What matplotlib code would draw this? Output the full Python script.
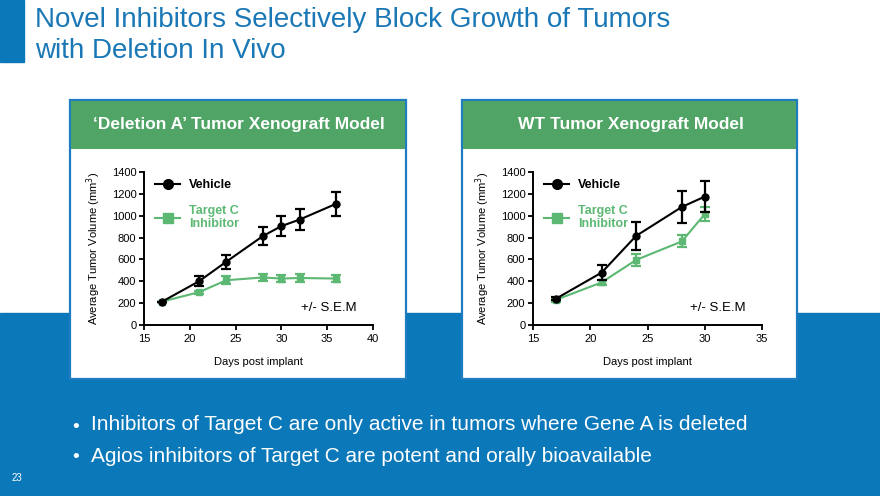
import numpy as np
import matplotlib
matplotlib.use("Agg")
import matplotlib.pyplot as plt
from matplotlib.patches import Rectangle
from matplotlib.lines import Line2D

plt.rcParams['font.family'] = ['Liberation Sans', 'DejaVu Sans']

# ---------------- data ----------------
title_lines = ["Novel Inhibitors Selectively Block Growth of Tumors", "with Deletion In Vivo"]
panel_titles = ["\u2018Deletion A\u2019 Tumor Xenograft Model", "WT Tumor Xenograft Model"]
series_names = ["Vehicle", "Target C\nInhibitor"]

del_days = [17, 21, 24, 28, 30, 32, 36]
del_vehicle = [215, 400, 580, 815, 905, 965, 1110]
del_vehicle_err = [0, 45, 65, 85, 95, 95, 110]
del_inhib = [215, 300, 410, 435, 425, 430, 425]
del_inhib_err = [0, 15, 35, 35, 35, 35, 35]

wt_days = [17, 21, 24, 28, 30]
wt_vehicle = [240, 480, 815, 1080, 1175]
wt_vehicle_err = [15, 70, 130, 145, 145]
wt_inhib = [230, 390, 595, 765, 1015]
wt_inhib_err = [15, 25, 55, 55, 65]

del_xticks = [15, 20, 25, 30, 35, 40]
wt_xticks = [15, 20, 25, 30, 35]
yticks = [0, 200, 400, 600, 800, 1000, 1200, 1400]

bullets = ["Inhibitors of Target C are only active in tumors where Gene A is deleted",
           "Agios inhibitors of Target C are potent and orally bioavailable"]
page_num = "23"

# ---------------- styling ----------------
W, H = 880, 496
BLUE = '#0a78b9'
TITLE_BLUE = '#1b78b6'
HEAD_GREEN = '#50a566'
LINE_GREEN = '#5cb873'
BORDER = '#1f7cc0'

fig = plt.figure(figsize=(W/100, H/100), dpi=100)
fig.patch.set_facecolor('white')

def fx(px): return px / W
def fy(py): return 1 - py / H

# blue band
fig.patches.append(Rectangle((0, 0), 1, fy(313), transform=fig.transFigure, color=BLUE, zorder=0))
# left title bar
fig.patches.append(Rectangle((0, fy(62)), fx(24), 62/H, transform=fig.transFigure, color=BLUE, zorder=0))

fig.text(fx(35), fy(20), title_lines[0], color=TITLE_BLUE, fontsize=20, va='center', ha='left')
fig.text(fx(35), fy(51), title_lines[1], color=TITLE_BLUE, fontsize=20, va='center', ha='left')

panels = [(70, 406), (462, 797)]
for (x0, x1), t in zip(panels, panel_titles):
    fig.patches.append(Rectangle((fx(x0), fy(379)), fx(x1 - x0), (379 - 100)/H,
                                 transform=fig.transFigure, facecolor='white',
                                 edgecolor=BORDER, linewidth=1.6, zorder=1))
    fig.patches.append(Rectangle((fx(x0) + 0.001, fy(149)), fx(x1 - x0) - 0.002, (149 - 101)/H,
                                 transform=fig.transFigure, facecolor=HEAD_GREEN,
                                 edgecolor='none', zorder=2))
    fig.text(fx((x0 + x1) / 2 + 1), fy(125), t, color='white',
             fontsize=12.5, fontweight='bold', ha='center', va='center', zorder=3)

def make_axes(left_px, right_px, days, veh, veh_err, inh, inh_err, xticks, xlim):
    ax = fig.add_axes([fx(left_px), fy(325), fx(right_px - left_px), (325 - 172)/H])
    ax.set_zorder(5)
    ax.patch.set_alpha(0)
    ax.errorbar(days, inh, yerr=inh_err, color=LINE_GREEN, marker='s', markersize=5,
                linewidth=1.5, capsize=3.3, capthick=1.6, elinewidth=1.6, zorder=3)
    ax.errorbar(days, veh, yerr=veh_err, color='black', marker='o', markersize=5,
                linewidth=1.5, capsize=3.3, capthick=1.6, elinewidth=1.6, zorder=4)
    ax.set_xlim(*xlim)
    ax.set_ylim(0, 1400)
    ax.set_xticks(xticks)
    ax.set_yticks(yticks)
    for s in ['top', 'right']:
        ax.spines[s].set_visible(False)
    for s in ['left', 'bottom']:
        ax.spines[s].set_linewidth(1.4)
    ax.tick_params(axis='both', labelsize=8, width=1.3, length=3.5, pad=2, colors='black')
    ax.tick_params(axis='x', pad=3)
    ax.set_xlabel("Days post implant", fontsize=8, labelpad=9)
    ax.set_ylabel("Average Tumor Volume (mm$^3$)", fontsize=8, labelpad=6)
    h1 = Line2D([], [], color='black', marker='o', markersize=7, linewidth=1.5)
    h2 = Line2D([], [], color=LINE_GREEN, marker='s', markersize=7, linewidth=1.5)
    leg = ax.legend([h1, h2], series_names, loc='upper left', bbox_to_anchor=(0.0, 1.025),
                    frameon=False, handlelength=2.0, handletextpad=0.7,
                    labelspacing=1.05, prop={'weight': 'bold', 'size': 9})
    leg.get_texts()[0].set_color('black')
    leg.get_texts()[1].set_color(LINE_GREEN)
    ax.text(0.685, 0.11, "+/- S.E.M", transform=ax.transAxes, fontsize=9.5, ha='left', va='center')
    return ax

make_axes(144, 373, del_days, del_vehicle, del_vehicle_err, del_inhib, del_inhib_err, del_xticks, (15, 40))
make_axes(533, 762, wt_days, wt_vehicle, wt_vehicle_err, wt_inhib, wt_inhib_err, wt_xticks, (15, 35))

for i, b in enumerate(bullets):
    y = 425 + 31 * i
    fig.text(fx(72), fy(y + 2), "\u2022", color='white', fontsize=14, ha='left', va='center')
    fig.text(fx(91), fy(y), b, color='white', fontsize=15, ha='left', va='center')

fig.text(fx(12), fy(478), page_num, color='white', fontsize=7, ha='left', va='center')

# logo (decorative waves)
lax = fig.add_axes([fx(812), fy(484), fx(56), 26/H])
lax.axis('off')
t = np.linspace(0, 1, 100)
lax.plot(t, 0.5 + 0.35 * np.sin(np.pi * (t * 1.6 - 0.3)) * (1 - t) + 0.1 * t, color='white', lw=1.5)
lax.plot(t, 0.5 - 0.35 * np.sin(np.pi * (t * 1.6 - 0.3)) * (1 - t) - 0.1 * t, color='#cde6f5', lw=1.2)
lax.set_xlim(0, 1)
lax.set_ylim(0, 1)

fig.savefig("out.png", dpi=100, facecolor=fig.get_facecolor())
